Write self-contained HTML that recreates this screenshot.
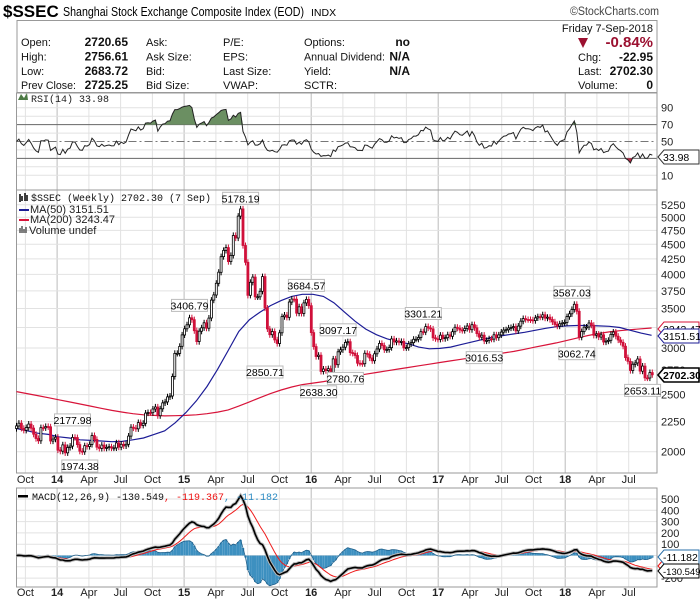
<!DOCTYPE html>
<html><head><meta charset="utf-8"><style>
html,body{margin:0;padding:0;background:#fff;}
svg{display:block;font-family:"Liberation Sans",sans-serif;}
.h{font-size:11px;fill:#111;}
.hb{font-size:12px;font-weight:bold;fill:#111;}
.ax{font-size:11px;fill:#222;}
.mono{font-family:"Liberation Mono","DejaVu Sans Mono",monospace;font-size:10px;}
</style></head><body>
<svg id="chart" width="700" height="603" viewBox="0 0 700 603" xmlns="http://www.w3.org/2000/svg">
<g>
<text x="3" y="17" style="font-size:17px;font-weight:bold">$SSEC</text>
<text x="63" y="16" style="font-size:12.5px" textLength="241" lengthAdjust="spacingAndGlyphs">Shanghai Stock Exchange Composite Index (EOD)</text>
<text x="311" y="16" style="font-size:10.5px">INDX</text>
<text x="659" y="15" text-anchor="end" style="font-size:11.5px;fill:#444" textLength="89" lengthAdjust="spacingAndGlyphs">©StockCharts.com</text>
<rect x="17" y="20.5" width="640" height="72" fill="none" stroke="#999"/>
<text x="653" y="32" text-anchor="end" class="h">Friday  7-Sep-2018</text>
<text x="21" y="46" class="h">Open:</text>
<text x="128" y="46" text-anchor="end" class="hb">2720.65</text>
<text x="21" y="60.5" class="h">High:</text>
<text x="128" y="60.5" text-anchor="end" class="hb">2756.61</text>
<text x="21" y="75" class="h">Low:</text>
<text x="128" y="75" text-anchor="end" class="hb">2683.72</text>
<text x="21" y="89" class="h" textLength="55" lengthAdjust="spacingAndGlyphs">Prev Close:</text>
<text x="128" y="89" text-anchor="end" class="hb">2725.25</text>
<text x="146" y="46" class="h">Ask:</text>
<text x="146" y="60.5" class="h">Ask Size:</text>
<text x="146" y="75" class="h">Bid:</text>
<text x="146" y="89" class="h">Bid Size:</text>
<text x="223" y="46" class="h">P/E:</text>
<text x="223" y="60.5" class="h">EPS:</text>
<text x="223" y="75" class="h">Last Size:</text>
<text x="223" y="89" class="h">VWAP:</text>
<text x="304" y="46" class="h">Options:</text>
<text x="304" y="60.5" class="h" textLength="81" lengthAdjust="spacingAndGlyphs">Annual Dividend:</text>
<text x="304" y="75" class="h">Yield:</text>
<text x="304" y="89" class="h">SCTR:</text>
<text x="410" y="46" text-anchor="end" class="hb">no</text>
<text x="410" y="60.5" text-anchor="end" class="hb">N/A</text>
<text x="410" y="75" text-anchor="end" class="hb">N/A</text>
<polygon points="578,38 588,38 583,48" fill="#9b1030"/>
<text x="653" y="47" text-anchor="end" style="font-size:15px;font-weight:bold;fill:#9b1030">-0.84%</text>
<text x="578" y="61" class="h">Chg:</text>
<text x="653" y="61" text-anchor="end" class="hb">-22.95</text>
<text x="578" y="75" class="h">Last:</text>
<text x="653" y="75" text-anchor="end" class="hb">2702.30</text>
<text x="578" y="89" class="h">Volume:</text>
<text x="653" y="89" text-anchor="end" class="hb">0</text>
</g>
<g id="grid"></g>
<g id="marks"></g>
<g id="labels"></g>
</svg>
<script>
// ---- data ----
const closes = [
2212,2236,2191,2174,2198,2228,2193,2141,2106,2087,2197,2196,2207,2204,2085,2101,2116,
2013,2004,2054,1991,2033,2044,2115,2113,2056,2004,1999,2047,2041,2058,2130,2098,2036,2026,2052,2027,2034,2039,2029,2030,2070,2036,2059,2046,2059,2126,2201,2194,2187,2241,2217,2235,2326,2331,2329,2363,2382,2302,2365,2420,2430,2478,2486,2683,2937,2938,3019,3157,
3234,3285,3376,3351,3210,3076,3203,3246,3310,3241,3372,3617,3691,3863,4034,4287,4393,4442,4205,4308,4657,4611,5023,5166,4478,4193,3686,3878,3957,3663,3664,3744,3965,3507,3232,3160,3200,3097,3053,3183,3391,3412,3382,3590,3632,3630,3436,3524,3434,3578,3627,3539,
3186,3016,2901,2916,2737,2763,2746,2767,2688,2874,2810,2955,2979,3009,3066,3074,2946,2938,2913,2827,2825,2821,2938,2927,2885,2854,2932,2988,3054,3029,2979,2982,3004,3108,3070,3084,3067,3078,3002,3004,3048,3064,3104,3104,3125,3197,3193,3262,3243,3232,3122,3110,3103,
3154,3112,3123,3159,3140,3197,3253,3241,3218,3212,3237,3269,3222,3286,3246,3173,3129,3154,3083,3090,3110,3105,3158,3123,3157,3192,3217,3222,3244,3249,3262,3208,3268,3331,3365,3353,3352,3348,3339,3374,3390,3385,3416,3371,3383,3353,3322,3289,3267,3297,3307,3315,
3391,3429,3487,3558,3462,3129,3199,3254,3256,3307,3279,3152,3168,3131,3159,3071,3082,3091,3163,3193,3141,3095,3067,3021,2889,2847,2747,2814,2829,2873,2740,2795,2669,2668,2725,2702];
const firstOpen = 2190;
const ma50Monthly = [2190,2170,2150,2140,
2120,2110,2095,2090,2085,2080,2082,2095,2110,2140,2170,2240,
2330,2440,2580,2760,2970,3200,3350,3450,3540,3610,3670,3700,
3700,3670,3580,3450,3330,3230,3160,3110,3075,3050,3010,2990,
2995,3010,3040,3070,3100,3130,3150,3170,3190,3215,3240,3260,
3270,3275,3275,3270,3265,3250,3215,3180,3152];
const ma200Monthly = [2530,2510,2490,2470,
2450,2430,2410,2390,2370,2350,2335,2320,2310,2305,2300,2302,
2305,2310,2320,2335,2355,2390,2430,2470,2510,2545,2575,2600,
2615,2630,2650,2670,2690,2708,2726,2744,2762,2780,2798,2816,
2834,2852,2870,2888,2906,2924,2942,2960,2985,3010,3035,3060,
3090,3120,3150,3175,3195,3210,3222,3233,3243];
const annoValues = [5178.19,3406.79,3684.57,2850.71,2638.30,2177.98,1974.38,3097.17,2780.76,3301.21,3016.53,3587.03,3062.74,2653.11];
const annoWeeks  = [92,71,119,102,124,23,26,132,135,167,192,228,230,257];
const annoIsHigh = [1,1,1,0,0,1,0,1,0,1,0,1,0,0];
const priceTicks = [5250,5000,4750,4500,4250,4000,3750,3500,3250,3000,2750,2500,2250,2000];
const rsiTicks = [90,70,50,10];
const macdTicks = [500,400,300,200,100,-200];
const quarterMonths = [1,4,7,10,13,16,19,22,25,28,31,34,37,40,43,46,49,52,55,58];
const quarterLabels = ["Oct","14","Apr","Jul","Oct","15","Apr","Jul","Oct","16","Apr","Jul","Oct","17","Apr","Jul","Oct","18","Apr","Jul"];

// ---- geometry ----
const NS="http://www.w3.org/2000/svg";
const L=16.5, R=657, WK=2.436;
const xW = i => L + i*WK;
const xM = m => xW(m*4.345-0.7);
const LN5000=Math.log(5000);
const yP = v => 217.3 + 255.8*(LN5000-Math.log(v));
const yR = v => 141.5 - (v-50)*0.845;
const yM = v => 555.5 - v*0.113;
const HIST_SCALE = 1.6;
const RSI_T=93, RSI_B=190, MAIN_T=190, MAIN_B=473, MACD_T=488, MACD_B=587;
function mk(parent,tag,attrs,txt){const e=document.createElementNS(NS,tag);for(const k in attrs)e.setAttribute(k,attrs[k]);if(txt!==undefined)e.textContent=txt;document.getElementById(parent).appendChild(e);return e;}

// ---- grid ----
let e;
for(let q=0;q<quarterMonths.length;q++){
  const x=xM(quarterMonths[q]).toFixed(1); const yr=/^\d/.test(quarterLabels[q]);
  e=mk('grid','line',{x1:x,x2:x,y1:RSI_T,y2:MAIN_B,stroke:yr?'#bbb':'#e2e2e2'});
  
  
  e=mk('grid','line',{x1:x,x2:x,y1:MACD_T,y2:MACD_B,stroke:yr?'#bbb':'#e2e2e2'});
  
  
  for(const ty of [483,596]){
    e=mk('labels','text',{x:x,y:ty,'text-anchor':'middle',class:'ax','font-weight':yr?'bold':'normal'},quarterLabels[q]);
    
    
  }
}
for(const t of priceTicks){
  const y=yP(t).toFixed(1);
  e=mk('grid','line',{x1:L,x2:R,y1:y,y2:y,stroke:'#e2e2e2'});
  
  
  e=mk('labels','text',{x:661,y:(+y+4).toFixed(1),class:'ax'},String(t));
  
  
}
for(let v=10;v<=90;v+=10){
  const y=yR(v).toFixed(1);
  e=mk('grid','line',{x1:L,x2:R,y1:y,y2:y,stroke:(v==70||v==30)?'#666':(v==50?'#777':'#e2e2e2'),'stroke-dasharray':v==50?'8,3,2,3':'none'});
  
  
}
for(const t of rsiTicks){
  e=mk('labels','text',{x:661,y:(yR(t)+4).toFixed(1),class:'ax'},String(t));
  
  
}
for(let v=-200;v<=500;v+=100){
  const y=yM(v).toFixed(1);
  e=mk('grid','line',{x1:L,x2:R,y1:y,y2:y,stroke:'#e2e2e2'});
  
  
}
for(const t of macdTicks){
  e=mk('labels','text',{x:661,y:(yM(t)+4).toFixed(1),class:'ax'},String(t));
  
  
}
for(const [t,b,n] of [[RSI_T,RSI_B,'rsi-panel-frame'],[MAIN_T,MAIN_B,'price-panel-frame'],[MACD_T,MACD_B,'macd-panel-frame']]){
  e=mk('grid','rect',{x:L,y:t,width:R-L,height:b-t,fill:'none',stroke:'#999'});
  
  
}

// ---- RSI ----
let ag=15,al=15; const rsi=[50];
for(let i=1;i<closes.length;i++){const d=closes[i]-closes[i-1];ag=(ag*13+Math.max(d,0))/14;al=(al*13+Math.max(-d,0))/14;rsi.push(100-100/(1+ag/al));}
let rp=rsi.map((v,i)=>xW(i).toFixed(1)+','+yR(v).toFixed(1));
const y70=yR(70), y30=yR(30);
e=mk('marks','polygon',{points:xW(0)+','+y70+' '+rsi.map((v,i)=>xW(i).toFixed(1)+','+Math.min(yR(v),y70).toFixed(1)).join(' ')+' '+xW(rsi.length-1)+','+y70,fill:'#6b8f62'});


e=mk('marks','polygon',{points:xW(0)+','+y30+' '+rsi.map((v,i)=>xW(i).toFixed(1)+','+Math.max(yR(v),y30).toFixed(1)).join(' ')+' '+xW(rsi.length-1)+','+y30,fill:'#c0284a'});


e=mk('marks','polyline',{points:rp.join(' '),fill:'none',stroke:'#222','stroke-width':1});



// ---- MAs ----
e=mk('marks','polyline',{points:ma200Monthly.map((v,m)=>xW(m*4.345).toFixed(1)+','+yP(v).toFixed(1)).join(' '),fill:'none',stroke:'#d8143a','stroke-width':1.2});


e=mk('marks','polyline',{points:ma50Monthly.map((v,m)=>xW(m*4.345).toFixed(1)+','+yP(v).toFixed(1)).join(' '),fill:'none',stroke:'#1c1c96','stroke-width':1.2});



// ---- candles ----
for(let i=0;i<closes.length;i++){
  const o=i?closes[i-1]:firstOpen, c=closes[i];
  const up=c>=o, col=up?'#000':'#d0103a';
  const hi=Math.max(o,c)*1.012, lo=Math.min(o,c)*0.988, x=xW(i);
  e=mk('marks','line',{x1:x.toFixed(1),x2:x.toFixed(1),y1:yP(hi).toFixed(1),y2:yP(lo).toFixed(1),stroke:col,'stroke-width':1});
  
  
  const yt=yP(Math.max(o,c)), yb=yP(Math.min(o,c));
  e=mk('marks','rect',{x:(x-1).toFixed(1),y:yt.toFixed(1),width:2,height:Math.max(1,yb-yt).toFixed(1),fill:up?'#fff':col,stroke:col,'stroke-width':0.8});
  
  
}

// ---- annotations ----
for(let k=0;k<annoValues.length;k++){
  const x=xW(annoWeeks[k]), v=annoValues[k], hi=annoIsHigh[k];
  const cy=yP(v)+(hi?-10:11), w=36;
  e=mk('labels','rect',{x:(x-w/2).toFixed(1),y:(cy-6).toFixed(1),width:w,height:12,fill:'#fff',stroke:'#bbb'});
  
  
  e=mk('labels','text',{x:x.toFixed(1),y:(cy+4).toFixed(1),'text-anchor':'middle',style:'font-size:10.5px'},v.toFixed(2));
  
  
}

// ---- MACD ----
let e12=closes[0],e26=closes[0],sig=0; const macd=[],sg=[];
for(let i=0;i<closes.length;i++){e12+=(closes[i]-e12)*2/13;e26+=(closes[i]-e26)*2/27;const m=e12-e26;sig+=(m-sig)*0.2;macd.push(m);sg.push(sig);}
const y0=yM(0);
for(let i=0;i<macd.length;i++){
  const h=(macd[i]-sg[i])*HIST_SCALE, y=yM(h);
  e=mk('marks','rect',{x:(xW(i)-1.2).toFixed(1),y:Math.min(y,y0).toFixed(1),width:2.4,height:Math.abs(y-y0).toFixed(1),fill:'#3d90c0'});
  
  
}
e=mk('marks','polyline',{points:macd.map((m,i)=>xW(i).toFixed(1)+','+yM((m-sg[i])*HIST_SCALE).toFixed(1)).join(' '),fill:'none',stroke:'#1f5f8a','stroke-width':0.8});


e=mk('marks','polyline',{points:sg.map((v,i)=>xW(i).toFixed(1)+','+yM(v).toFixed(1)).join(' '),fill:'none',stroke:'#ee1c1c','stroke-width':1});


e=mk('marks','polyline',{points:macd.map((v,i)=>xW(i).toFixed(1)+','+yM(v).toFixed(1)).join(' '),fill:'none',stroke:'#bbb','stroke-width':3.5});


e=mk('marks','polyline',{points:macd.map((v,i)=>xW(i).toFixed(1)+','+yM(v).toFixed(1)).join(' '),fill:'none',stroke:'#000','stroke-width':1.6});



// ---- value tags ----
function tag(y,txt,col,bold,name){
  const g=mk('labels','g',{});
  
  
  const p=document.createElementNS(NS,'polygon');
  p.setAttribute('points',`658,${y} 664,${y-7} 699,${y-7} 699,${y+7} 664,${y+7}`);
  p.setAttribute('fill','#fff');p.setAttribute('stroke',col);p.setAttribute('stroke-width',bold?1.6:1);
  g.appendChild(p);
  const t=document.createElementNS(NS,'text');
  t.setAttribute('x',663);t.setAttribute('y',y+4);t.setAttribute('style','font-size:'+(txt.length>7?'9.5':'10.5')+'px;'+(bold?'font-weight:bold;':''));
  t.textContent=txt;g.appendChild(t);
}
tag(157,'33.98','#333',false,'rsi-value-tag');
tag(329,'3243.47','#d8143a',false,'ma200-value-tag');
tag(336,'3151.51','#1c1c96',false,'ma50-value-tag');
tag(375,'2702.30','#000',true,'last-price-tag');
tag(566,'-119.367','#e11',false,'macd-signal-tag');
tag(557,'-11.182','#2a6fa8',false,'macd-histogram-tag');
tag(571,'-130.549','#000',false,'macd-value-tag');

// ---- legends ----
function leg(x,y,txt,col,name,cls){
  const t=mk('labels','text',{x:x,y:y,class:cls||'mono',fill:col},txt);
  
  
}
e=mk('labels','path',{d:'M18 100 L21 94 L24 98 L27 93 L28 100 Z',fill:'#4d7a45'});


leg(31,102,'RSI(14) 33.98','#222','rsi-legend');
e=mk('labels','path',{d:'M20 194 v8 M22 196 v5 M25 193 v8 M27 195 v6',stroke:'#000','stroke-width':1.5});


leg(31,201,'$SSEC (Weekly) 2702.30 (7 Sep)','#111','price-legend');
e=mk('labels','rect',{x:19,y:209,width:10,height:2,fill:'#1c1c96'});


leg(30,213,'MA(50) 3151.51','#1c1c96','ma50-legend','ax');
e=mk('labels','rect',{x:19,y:219,width:10,height:2,fill:'#d8143a'});


leg(30,223,'MA(200) 3243.47','#d8143a','ma200-legend','ax');
e=mk('labels','path',{d:'M20 233 v-5 M22 233 v-7 M24 233 v-4 M26 233 v-6',stroke:'#555','stroke-width':1.5});


leg(29,234,'Volume undef','#444','volume-legend','ax');
e=mk('labels','rect',{x:18,y:495,width:10,height:2.5,fill:'#000'});


const mt=mk('labels','text',{x:32,y:500,class:'mono'});


for(const [s,c] of [['MACD(12,26,9) -130.549','#111'],[', -119.367','#e11'],[', -11.182','#2a8ac2']]){
  const ts=document.createElementNS(NS,'tspan');ts.setAttribute('fill',c);ts.textContent=s;mt.appendChild(ts);
}
</script>
</body></html>
